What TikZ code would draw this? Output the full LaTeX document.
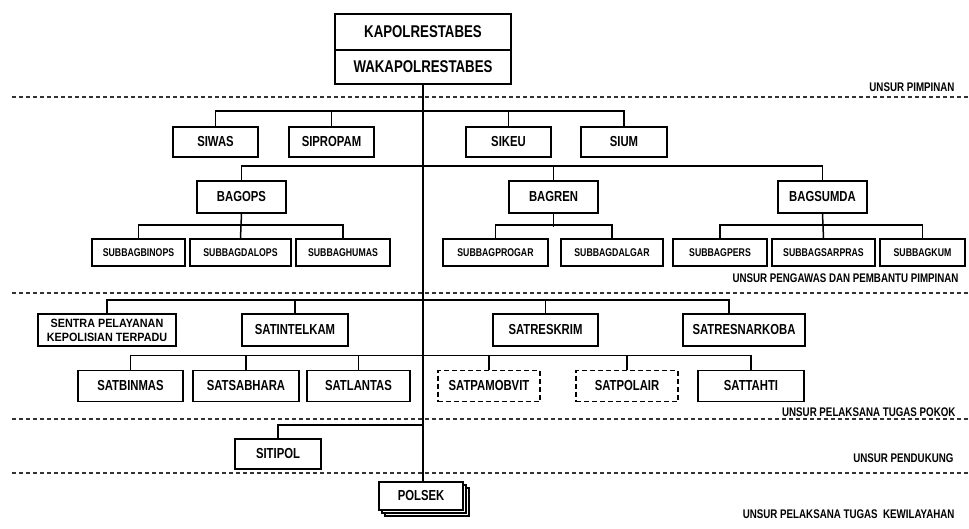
\documentclass[tikz,border=0pt]{standalone}
\usepackage{fontspec}
\setmainfont{Liberation Sans}[FakeStretch=0.78]
\newfontfamily\sentrafont{Liberation Sans}[FakeStretch=0.9]
\usetikzlibrary{positioning, shadows}

\begin{document}
\begin{tikzpicture}[x=1pt, y=-1pt,
    box/.style={draw, line width=1.6pt, fill=white, inner sep=0pt,
      minimum height=31pt, font=\bfseries\fontsize{14.5}{16}\selectfont},
    topbox/.style={box, minimum width=176pt, font=\bfseries\fontsize{17}{18}\selectfont},
    subbox/.style={box, minimum height=27pt, font=\bfseries\fontsize{11.2}{13}\selectfont},
    dashbox/.style={box, dash pattern=on 5pt off 3pt},
    link/.style={line width=1.5pt},
    sepline/.style={line width=1.2pt, black!80, dash pattern=on 4pt off 3pt},
    unsur/.style={anchor=east, font=\bfseries\fontsize{12.5}{14}\selectfont}]
  \useasboundingbox (0,0) rectangle (969,529);

  % Pimpinan
  \node[topbox, minimum height=36pt] (kapol) at (423,32) {KAPOLRESTABES};
  \node[topbox, minimum height=34pt] (waka) at (423,67) {WAKAPOLRESTABES};

  % Pengawas dan pembantu pimpinan
  \node[box, minimum width=85pt, minimum height=30pt] (siwas) at (215.5,142) {SIWAS};
  \node[box, minimum width=85pt, minimum height=30pt] (sipropam) at (331.5,142) {SIPROPAM};
  \node[box, minimum width=85pt, minimum height=30pt] (sikeu) at (508.5,142) {SIKEU};
  \node[box, minimum width=86pt, minimum height=30pt] (sium) at (624,142) {SIUM};

  \node[box, minimum width=89pt, minimum height=32pt] (bagops) at (241.5,197) {BAGOPS};
  \node[box, minimum width=89pt, minimum height=32pt] (bagren) at (553.5,197) {BAGREN};
  \node[box, minimum width=89pt, minimum height=32pt] (bagsumda) at (822.5,197) {BAGSUMDA};

  \node[subbox, minimum width=93pt] (binops) at (138.5,252.5) {SUBBAGBINOPS};
  \node[subbox, minimum width=101pt] (dalops) at (240.5,252.5) {SUBBAGDALOPS};
  \node[subbox, minimum width=94pt] (humas) at (343,252.5) {SUBBAGHUMAS};
  \node[subbox, minimum width=105pt] (progar) at (495.5,252.5) {SUBBAGPROGAR};
  \node[subbox, minimum width=102pt] (dalgar) at (612,252.5) {SUBBAGDALGAR};
  \node[subbox, minimum width=94pt] (pers) at (720,252.5) {SUBBAGPERS};
  \node[subbox, minimum width=103pt] (sarpras) at (823.5,252.5) {SUBBAGSARPRAS};
  \node[subbox, minimum width=85pt] (kum) at (922.5,252.5) {SUBBAGKUM};

  % Pelaksana tugas pokok
  \node[box, minimum width=138pt, minimum height=32pt, align=center,
    font=\sentrafont\bfseries\fontsize{12}{14}\selectfont] (sentra) at (107,330)
    {SENTRA PELAYANAN\\KEPOLISIAN TERPADU};
  \node[box, minimum width=106pt, minimum height=32pt] (intelkam) at (295,330) {SATINTELKAM};
  \node[box, minimum width=105pt, minimum height=32pt] (reskrim) at (545.5,330) {SATRESKRIM};
  \node[box, minimum width=122pt, minimum height=32pt] (narkoba) at (744,330) {SATRESNARKOBA};

  \node[box, minimum width=105pt] (binmas) at (130.5,386) {SATBINMAS};
  \node[box, minimum width=106pt] (sabhara) at (246,386) {SATSABHARA};
  \node[box, minimum width=103pt] (lantas) at (358.5,386) {SATLANTAS};
  \node[dashbox, minimum width=102pt] (pamobvit) at (489,386) {SATPAMOBVIT};
  \node[dashbox, minimum width=102pt] (polair) at (627,386) {SATPOLAIR};
  \node[box, minimum width=106pt] (tahti) at (751,386) {SATTAHTI};

  % Pendukung dan kewilayahan
  \node[box, minimum width=86pt, minimum height=30pt] (sitipol) at (278,454) {SITIPOL};
  \node[box, minimum width=84pt, minimum height=28pt,
    double copy shadow={shadow xshift=3pt, shadow yshift=-3pt,
      draw=black, fill=white, line width=1.3pt}] (polsek) at (421,496) {POLSEK};

  % connectors
  \draw[link] (waka.south) -- (waka.south |- polsek.north);
  \draw[link] (siwas.north) -- ++(0,-15) -| (sium.north);
  \draw[link] (sipropam.north) -- ++(0,-15);
  \draw[link] (sikeu.north) -- ++(0,-15);

  \draw[link] (bagops.north) -- ++(0,-14) -| (bagsumda.north);
  \draw[link] (bagren.north) -- ++(0,-14);

  \draw[link] (binops.north) -- ++(0,-13) -| (humas.north);
  \draw[link] (bagops.south) -- (dalops.north);
  \draw[link] (progar.north) -- ++(0,-13) -| (dalgar.north);
  \draw[link] (bagren.south) -- ++(0,13);
  \draw[link] (pers.north) -- ++(0,-13) -| (kum.north);
  \draw[link] (bagsumda.south) -- (sarpras.north);

  \draw[link] (sentra.north) -- ++(0,-13) -| ([xshift=-15pt]narkoba.north);
  \draw[link] (intelkam.north) -- ++(0,-13);
  \draw[link] (reskrim.north) -- ++(0,-13);

  \draw[link] (binmas.north) -- ++(0,-14) -| (tahti.north);
  \draw[link] (sabhara.north) -- ++(0,-14);
  \draw[link] (lantas.north) -- ++(0,-14);
  \draw[link] (pamobvit.north) -- ++(0,-14);
  \draw[link] (polair.north) -- ++(0,-14);

  \coordinate (sitiJ) at (423,425);
  \draw[link] (sitipol.north) |- (sitiJ);

  % Unsur separators
  \foreach \yy in {97, 293, 419, 473}
    \draw[sepline] (12,\yy) -- (969,\yy);

  \node[unsur] (lpimpinan) at (958,87) {UNSUR PIMPINAN};
  \node[unsur] (lpengawas) at (962,278) {UNSUR PENGAWAS DAN PEMBANTU PIMPINAN};
  \node[unsur] (lpokok) at (959,412) {UNSUR PELAKSANA TUGAS POKOK};
  \node[unsur] (lpendukung) at (957,458) {UNSUR PENDUKUNG};
  \node[unsur] (lwilayah) at (958,514) {UNSUR PELAKSANA TUGAS\ \ KEWILAYAHAN};
\end{tikzpicture}
\end{document}
